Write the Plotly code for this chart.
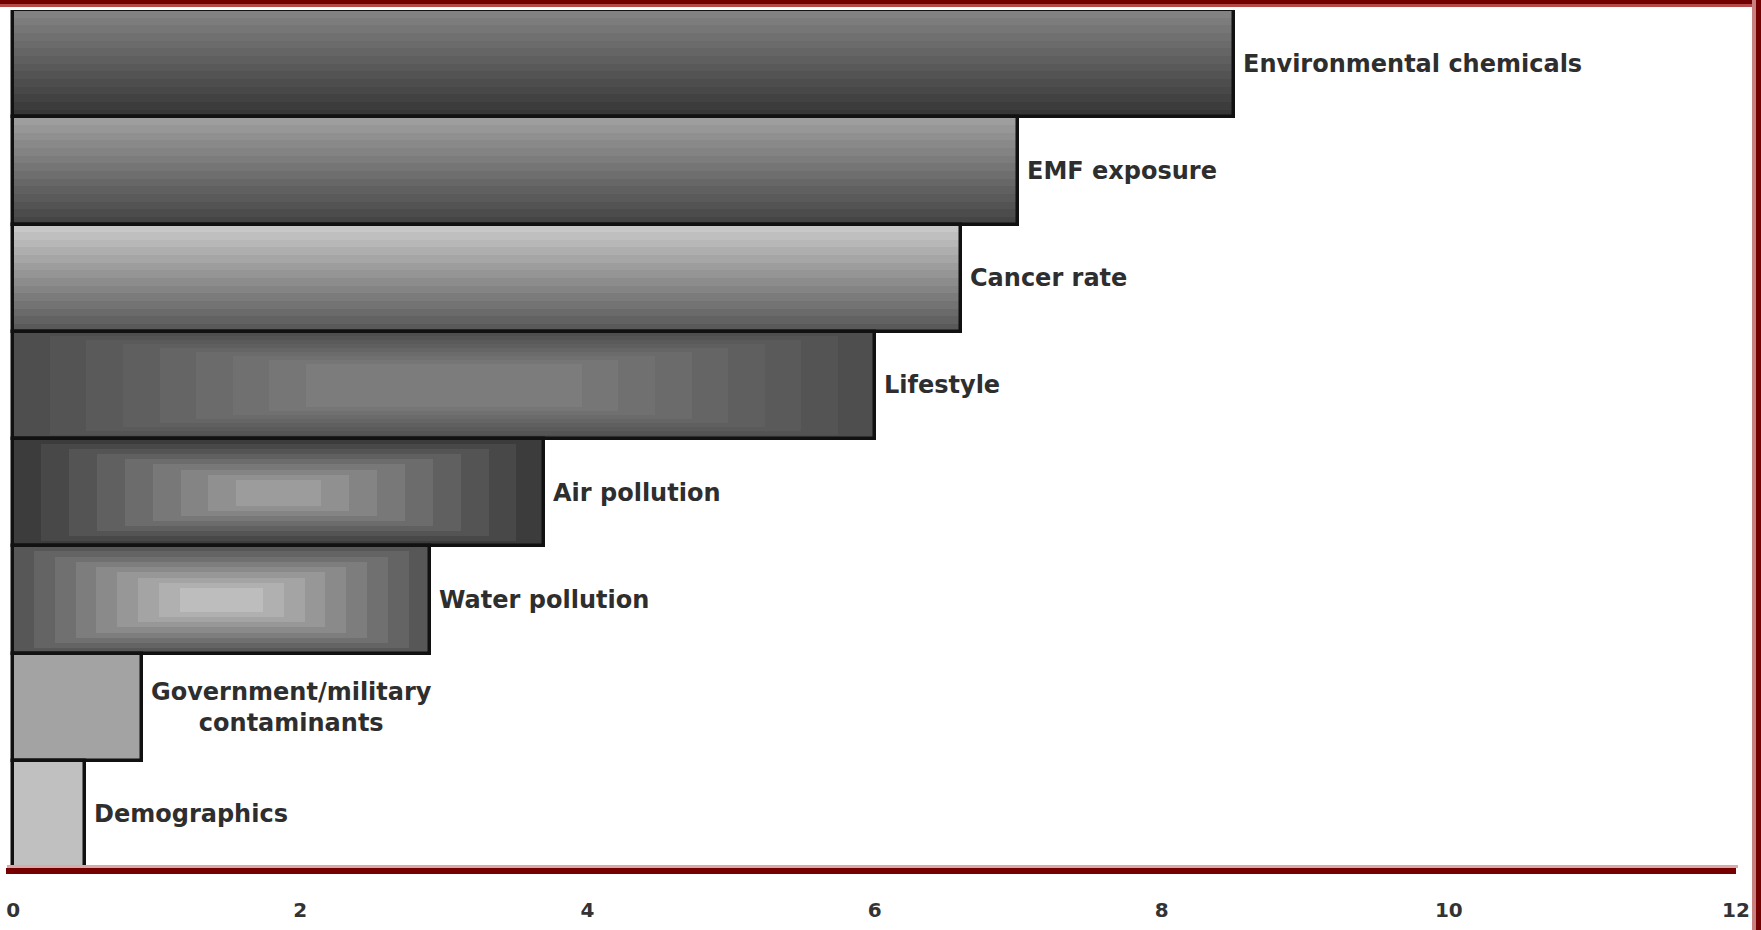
import plotly.graph_objects as go

# ---- data -------------------------------------------------------------
categories = [
    "Environmental chemicals",
    "EMF exposure",
    "Cancer rate",
    "Lifestyle",
    "Air pollution",
    "Water pollution",
    "Government/military<br>contaminants",
    "Demographics",
]
values = [8.5, 7.0, 6.6, 6.0, 3.7, 2.9, 0.9, 0.5]
x_ticks = [0, 2, 4, 6, 8, 10, 12]

# ---- fill styles ------------------------------------------------------
# "v": vertical shading (top colour -> bottom colour)
# "box": concentric shading (outer colour -> inner colour, inner fractions)
# "flat": single colour
fill_styles = [
    ("v", "#828282", "#363636"),
    ("v", "#9e9e9e", "#454545"),
    ("v", "#c8c8c8", "#595959"),
    ("box", "#4e4e4e", "#7c7c7c", 0.34, 0.30),
    ("box", "#3c3c3c", "#9c9c9c", 0.42, 0.38),
    ("box", "#575757", "#bdbdbd", 0.40, 0.39),
    ("flat", "#a3a3a3"),
    ("flat", "#c0c0c0"),
]


def hex_to_rgb(h):
    h = h.lstrip("#")
    return tuple(int(h[i:i + 2], 16) for i in (0, 2, 4))


def mix(c0, c1, t):
    a, b = hex_to_rgb(c0), hex_to_rgb(c1)
    return "rgb(%d,%d,%d)" % tuple(round(a[k] + (b[k] - a[k]) * t) for k in range(3))


fig = go.Figure()
ypos = list(range(len(categories)))

# vertical shading: horizontal stripes through each bar's thickness
N_STRIPES = 14
v_idx = [i for i, s in enumerate(fill_styles) if s[0] == "v"]
for k in range(N_STRIPES):
    t = k / (N_STRIPES - 1)
    fig.add_trace(go.Bar(
        orientation="h",
        y=[ypos[i] for i in v_idx],
        x=[values[i] for i in v_idx],
        offset=-0.5 + k / N_STRIPES,
        width=1 / N_STRIPES + 0.004,
        marker=dict(color=[mix(fill_styles[i][1], fill_styles[i][2], t) for i in v_idx],
                    line=dict(width=0)),
        hoverinfo="skip", showlegend=False,
    ))

# concentric shading: nested rectangles shrinking toward the centre
N_LEVELS = 9
b_idx = [i for i, s in enumerate(fill_styles) if s[0] == "box"]
for j in range(N_LEVELS):
    t = j / (N_LEVELS - 1)
    fx = [fill_styles[i][3] * t for i in b_idx]
    fy = [fill_styles[i][4] * t for i in b_idx]
    fig.add_trace(go.Bar(
        orientation="h",
        y=[ypos[i] for i in b_idx],
        base=[values[i] * f for i, f in zip(b_idx, fx)],
        x=[values[i] * (1 - 2 * f) for i, f in zip(b_idx, fx)],
        offset=[-0.5 + f for f in fy],
        width=[1 - 2 * f for f in fy],
        marker=dict(color=[mix(fill_styles[i][1], fill_styles[i][2], t) for i in b_idx],
                    line=dict(width=0)),
        hoverinfo="skip", showlegend=False,
    ))

# flat bars
f_idx = [i for i, s in enumerate(fill_styles) if s[0] == "flat"]
fig.add_trace(go.Bar(
    orientation="h",
    y=[ypos[i] for i in f_idx],
    x=[values[i] for i in f_idx],
    width=1,
    marker=dict(color=[fill_styles[i][1] for i in f_idx], line=dict(width=0)),
    hoverinfo="skip", showlegend=False,
))

# black outline of every bar
fig.add_trace(go.Bar(
    orientation="h",
    y=ypos,
    x=values,
    width=1,
    marker=dict(color="rgba(0,0,0,0)", line=dict(color="#111111", width=3.5)),
    hoverinfo="skip", showlegend=False,
))

# category labels to the right of each bar
label_font = dict(family="DejaVu Sans, Arial, sans-serif", size=24, color="#2e2e2e")
for i, (cat, v) in enumerate(zip(categories, values)):
    fig.add_annotation(
        x=v, y=ypos[i], text="<b>%s</b>" % cat,
        xanchor="left", yanchor="middle", xshift=7,
        align="center", showarrow=False, font=label_font,
    )

# ---- frame ------------------------------------------------------------
L, R, T, B = 6, 25, 10, 62
W, H = 1761, 930
pw, ph = W - L - R, H - T - B


def px_x(p):
    return (p - L) / pw


def px_y(p):
    return 1 - (p - T) / ph


frame = [
    (0, 0, W, 4, "#720000"),
    (0, 4, W, 7, "#b34a4a"),
    (1752, 0, 1756, H, "#c98080"),
    (1756, 0, W, H, "#720000"),
    (7, 865, 1738, 868, "#dba9a9"),
]
for x0, y0, x1, y1, col in frame:
    fig.add_shape(type="rect", xref="paper", yref="paper",
                  x0=px_x(x0), x1=px_x(x1), y0=px_y(y1), y1=px_y(y0),
                  fillcolor=col, line=dict(width=0), layer="above")

fig.update_layout(
    width=W, height=H,
    margin=dict(l=L, r=R, t=T, b=B),
    paper_bgcolor="white", plot_bgcolor="white",
    barmode="overlay",
    bargap=0,
    xaxis=dict(
        range=[-0.05, 12], tickvals=x_ticks,
        ticktext=["<b>%d</b>" % t for t in x_ticks],
        showgrid=False, zeroline=False,
        showline=True, linecolor="#760000", linewidth=6,
        ticks="outside", ticklen=19, tickcolor="rgba(0,0,0,0)",
        tickfont=dict(family="DejaVu Sans, Arial, sans-serif", size=20, color="#333333"),
        fixedrange=True,
    ),
    yaxis=dict(
        range=[len(categories) - 0.5, -0.5],
        showticklabels=False, showgrid=False, zeroline=False, showline=False,
        fixedrange=True,
    ),
)

fig.write_html("out.html")
